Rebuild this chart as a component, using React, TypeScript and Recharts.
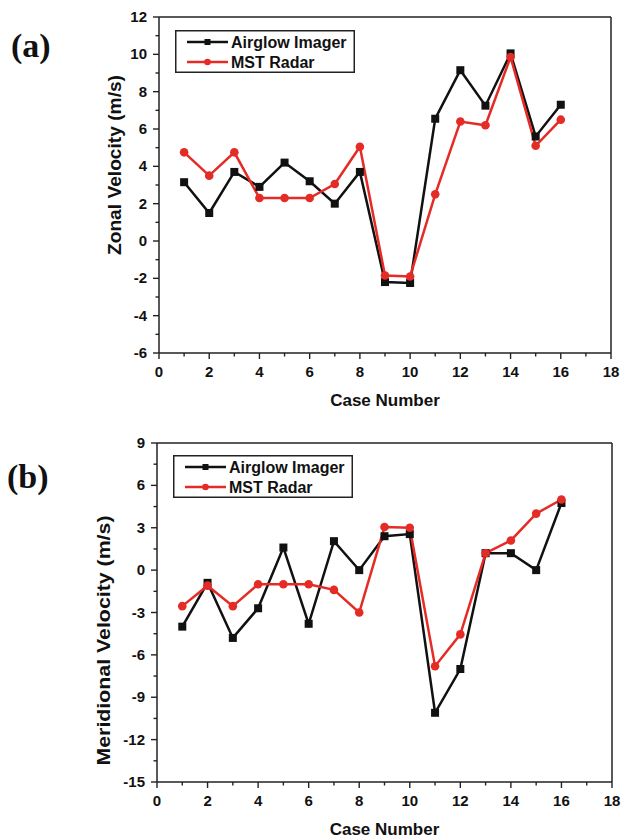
import React from 'react';
import { LineChart, Line, XAxis, YAxis, Legend, ReferenceLine, Label } from 'recharts';

const caseNumbers = [1, 2, 3, 4, 5, 6, 7, 8, 9, 10, 11, 12, 13, 14, 15, 16];

const zonalAirglow = [3.15, 1.5, 3.7, 2.9, 4.2, 3.2, 2.0, 3.7, -2.2, -2.25, 6.55, 9.15, 7.25, 10.05, 5.6, 7.3];
const zonalRadar = [4.75, 3.5, 4.75, 2.3, 2.3, 2.3, 3.05, 5.05, -1.85, -1.9, 2.5, 6.4, 6.2, 9.85, 5.1, 6.5];

const meridionalAirglow = [-4.0, -0.9, -4.8, -2.7, 1.6, -3.8, 2.05, 0.0, 2.4, 2.55, -10.1, -7.0, 1.2, 1.2, 0.0, 4.75];
const meridionalRadar = [-2.55, -1.1, -2.55, -1.0, -1.0, -1.0, -1.4, -3.0, 3.05, 3.0, -6.8, -4.55, 1.2, 2.1, 4.0, 5.0];

const xTicks = [0, 1, 2, 3, 4, 5, 6, 7, 8, 9, 10, 11, 12, 13, 14, 15, 16, 17, 18];
const zonalTicks = [-6, -5, -4, -3, -2, -1, 0, 1, 2, 3, 4, 5, 6, 7, 8, 9, 10, 11, 12];
const meridionalTicks = [-15, -13.5, -12, -10.5, -9, -7.5, -6, -4.5, -3, -1.5, 0, 1.5, 3, 4.5, 6, 7.5, 9];

const seriesNames = ['Airglow Imager', 'MST Radar'];

const BLACK = '#111111';
const RED = '#e52b25';
const AXIS = '#222222';
const SANS = '"Liberation Sans", Arial, sans-serif';

const zonalData = caseNumbers.map((c, i) => ({ caseNo: c, airglow: zonalAirglow[i], radar: zonalRadar[i] }));
const meridionalData = caseNumbers.map((c, i) => ({ caseNo: c, airglow: meridionalAirglow[i], radar: meridionalRadar[i] }));

const SquareDot = (props: any) => {
  const { cx, cy } = props;
  if (cx == null || cy == null) return null;
  return <rect x={cx - 4} y={cy - 4} width={8} height={8} fill={BLACK} />;
};

const CircleDot = (props: any) => {
  const { cx, cy } = props;
  if (cx == null || cy == null) return null;
  return <circle cx={cx} cy={cy} r={4.3} fill={RED} />;
};

const XTick = (props: any) => {
  const { x, y, payload } = props;
  const major = payload.value % 2 === 0;
  return (
    <g>
      <line x1={x} y1={y} x2={x} y2={y + (major ? 6 : 3.5)} stroke={AXIS} strokeWidth={1.4} />
      {major && (
        <text x={x} y={y + 24} textAnchor="middle" fontSize={15} fontWeight="bold" fill={BLACK} fontFamily={SANS}>
          {payload.value}
        </text>
      )}
    </g>
  );
};

const YTick = (props: any) => {
  const { x, y, payload, step } = props;
  const major = payload.value % step === 0;
  return (
    <g>
      <line x1={x} y1={y} x2={x - (major ? 6 : 3.5)} y2={y} stroke={AXIS} strokeWidth={1.4} />
      {major && (
        <text x={x - 12} y={y + 5} textAnchor="end" fontSize={15} fontWeight="bold" fill={BLACK} fontFamily={SANS}>
          {payload.value}
        </text>
      )}
    </g>
  );
};

const LegendBox = () => (
  <svg width={180} height={43} style={{ display: 'block' }}>
    <rect x={0.75} y={0.75} width={178.5} height={41.5} fill="#fff" stroke={AXIS} strokeWidth={1.5} />
    <line x1={12} y1={12} x2={53} y2={12} stroke={BLACK} strokeWidth={2.5} />
    <rect x={29.5} y={9} width={6} height={6} fill={BLACK} />
    <text x={56} y={18} fontSize={16} fontWeight="bold" fill={BLACK} fontFamily={SANS}>{seriesNames[0]}</text>
    <line x1={12} y1={32} x2={53} y2={32} stroke={RED} strokeWidth={2.5} />
    <circle cx={32.5} cy={32} r={3.3} fill={RED} />
    <text x={56} y={38} fontSize={16} fontWeight="bold" fill={BLACK} fontFamily={SANS}>{seriesNames[1]}</text>
  </svg>
);

interface PanelProps {
  data: any[];
  height: number;
  margin: { top: number; right: number; left: number; bottom: number };
  xAxisHeight: number;
  yTicks: number[];
  yStep: number;
  yTitle: string;
  yTitleDx: number;
  yTitleDy: number;
  yTitleLength: number;
  legendPos: { left: number; top: number };
}

const Panel: React.FC<PanelProps> = (p) => {
  const yMin = p.yTicks[0];
  const yMax = p.yTicks[p.yTicks.length - 1];
  return (
    <div style={{ position: 'absolute', left: 0, top: 0 }}>
      <LineChart width={625} height={p.height} data={p.data} margin={p.margin}>
        <XAxis
          dataKey="caseNo"
          type="number"
          domain={[0, 18]}
          ticks={xTicks}
          interval={0}
          height={p.xAxisHeight}
          tickSize={0}
          tickMargin={0}
          tickLine={false}
          axisLine={{ stroke: AXIS, strokeWidth: 1.5 }}
          tick={<XTick />}
        >
          <Label
            content={(lp: any) => {
              const vb = lp.viewBox;
              return (
                <text x={vb.x + vb.width / 2} y={vb.y + 53} textAnchor="middle" fontSize={17} fontWeight="bold" fill={BLACK} fontFamily={SANS}>
                  Case Number
                </text>
              );
            }}
          />
        </XAxis>
        <YAxis
          type="number"
          domain={[yMin, yMax]}
          ticks={p.yTicks}
          interval={0}
          width={80}
          tickSize={0}
          tickMargin={0}
          tickLine={false}
          axisLine={{ stroke: AXIS, strokeWidth: 1.5 }}
          tick={<YTick step={p.yStep} />}
        >
          <Label
            content={(lp: any) => {
              const vb = lp.viewBox;
              const cx = vb.x + vb.width - p.yTitleDx;
              const cy = vb.y + vb.height / 2 + p.yTitleDy;
              return (
                <text
                  x={cx}
                  y={cy}
                  transform={`rotate(-90, ${cx}, ${cy})`}
                  textAnchor="middle"
                  dominantBaseline="central"
                  fontSize={18}
                  fontWeight="bold"
                  fill={BLACK}
                  fontFamily={SANS}
                  textLength={p.yTitleLength}
                  lengthAdjust="spacingAndGlyphs"
                >
                  {p.yTitle}
                </text>
              );
            }}
          />
        </YAxis>
        <ReferenceLine y={yMax} stroke={AXIS} strokeWidth={1.5} />
        <ReferenceLine x={18} stroke={AXIS} strokeWidth={1.5} />
        <Legend
          layout="vertical"
          align="center"
          verticalAlign="middle"
          content={() => <LegendBox />}
          wrapperStyle={{ left: p.legendPos.left, top: p.legendPos.top, width: 180, height: 43 }}
        />
        <Line
          dataKey="airglow"
          name={seriesNames[0]}
          stroke={BLACK}
          strokeWidth={2.5}
          dot={<SquareDot />}
          activeDot={false}
          isAnimationActive={false}
        />
        <Line
          dataKey="radar"
          name={seriesNames[1]}
          stroke={RED}
          strokeWidth={2.5}
          dot={<CircleDot />}
          activeDot={false}
          isAnimationActive={false}
        />
      </LineChart>
    </div>
  );
};

export default function App() {
  return (
    <div style={{ position: 'absolute', left: 0, top: 0, width: 625, height: 839, background: '#fff' }}>
      <Panel
        data={zonalData}
        height={420}
        margin={{ top: 17, right: 14, left: 79, bottom: 0 }}
        xAxisHeight={67}
        yTicks={zonalTicks}
        yStep={2}
        yTitle="Zonal Velocity (m/s)"
        yTitleDx={44}
        yTitleDy={-20}
        yTitleLength={180}
        legendPos={{ left: 175, top: 30 }}
      />
      <Panel
        data={meridionalData}
        height={839}
        margin={{ top: 443, right: 13, left: 77, bottom: 0 }}
        xAxisHeight={57}
        yTicks={meridionalTicks}
        yStep={3}
        yTitle="Meridional Velocity (m/s)"
        yTitleDx={53}
        yTitleDy={28}
        yTitleLength={250}
        legendPos={{ left: 173, top: 455 }}
      />
      <svg width={625} height={839} style={{ position: 'absolute', left: 0, top: 0, pointerEvents: 'none' }}>
        <text x={11} y={57} fontSize={34} fontWeight="bold" fill={BLACK} fontFamily='"Liberation Serif", "Times New Roman", serif'>(a)</text>
        <text x={7} y={488} fontSize={34} fontWeight="bold" fill={BLACK} fontFamily='"Liberation Serif", "Times New Roman", serif'>(b)</text>
      </svg>
    </div>
  );
}
